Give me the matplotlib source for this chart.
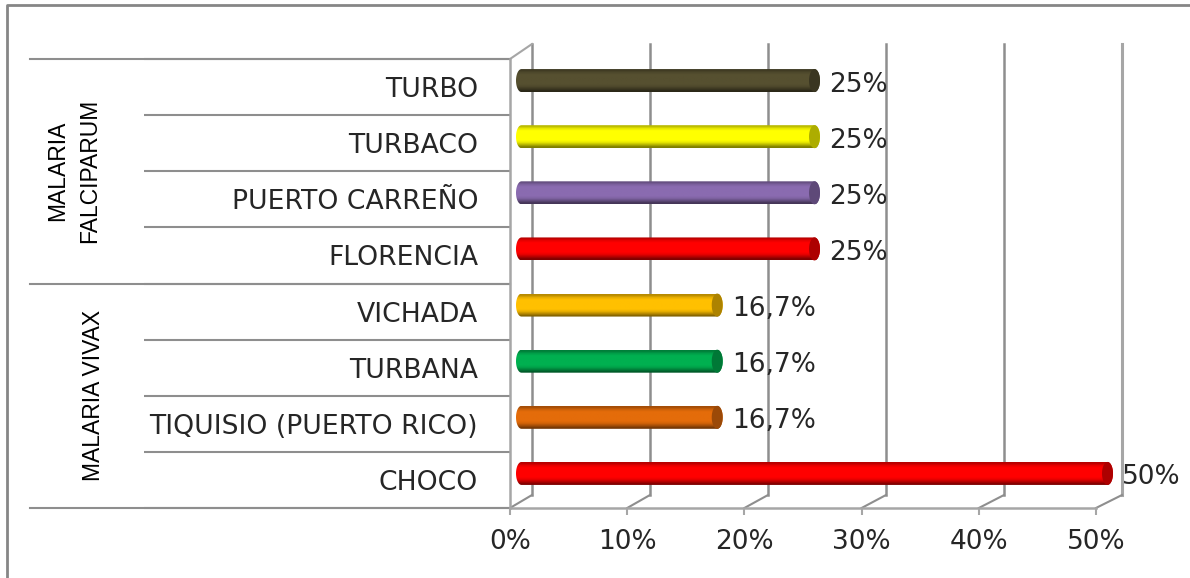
import numpy as np
import matplotlib
matplotlib.use('Agg')
import matplotlib.pyplot as plt
from matplotlib.colors import to_rgb
from matplotlib.lines import Line2D
from matplotlib.patches import Polygon

categories = ['CHOCO', 'TIQUISIO (PUERTO RICO)', 'TURBANA', 'VICHADA',
              'FLORENCIA', 'PUERTO CARREÑO', 'TURBACO', 'TURBO']
values = [50, 16.7, 16.7, 16.7, 25, 25, 25, 25]
value_labels = ['50%', '16,7%', '16,7%', '16,7%', '25%', '25%', '25%', '25%']
bar_colors = ['#FF0000', '#E46C0A', '#00B050', '#FFC000',
              '#FF0000', '#8A6BB0', '#FFFF00', '#565030']
x_ticks = [0, 10, 20, 30, 40, 50]
x_tick_labels = ['0%', '10%', '20%', '30%', '40%', '50%']
groups = ['MALARIA VIVAX', 'MALARIA\nFALCIPARUM']

W, H = 1190, 578
LINE = '#8E8E8E'
WALL = '#A6A6A6'
TEXT = '#262626'
plt.rcParams['font.family'] = 'DejaVu Sans'

fig = plt.figure(figsize=(W / 100, H / 100), dpi=100)
ax = fig.add_axes([510 / W, (H - 508) / H, 586 / W, 449 / H])
ax.set_facecolor('none')

# size of one pixel in data units
px = 50 / 586
py = 8 / 449

# outer frame: only the left and top edges are inside the picture
fig.add_artist(Line2D([7 / W, 7 / W, 1], [0, 1 - 5 / H, 1 - 5 / H], transform=fig.transFigure,
                      color='#868686', lw=2))

# back wall of the 3d box
dx, dy_bottom, dy_top = 22 * px, 13 * py, 15 * py
stretch = 590 / 586
for t in x_ticks:
    bx = t * stretch + dx
    col, lw = (WALL, 2.2) if t == x_ticks[-1] else (LINE, 1.8)
    ax.plot([bx, bx], [dy_bottom, 8 + dy_top], color=col, lw=lw, clip_on=False, zorder=1)
    ax.plot([t, bx], [0, dy_bottom], color=LINE, lw=1.5, clip_on=False, zorder=1)
ax.plot([0, dx], [8, 8 + dy_top], color=WALL, lw=1.5, clip_on=False, zorder=1)

# cylinders
half_h = 11.5 * py
cap_w = 5.5 * px
shift_x = 11.5 * px
shift_y = 6.5 * py
shade = np.array([0.72, 0.9, 1, 1, 1, 1, 1, 0.92, 0.72, 0.5])[:, None, None]
t = np.linspace(0, 2 * np.pi, 80)
for i, (v, c) in enumerate(zip(values, bar_colors)):
    yc = i + 0.5 + shift_y
    x0, x1 = shift_x, v + shift_x
    base = np.array(to_rgb(c))
    img = ax.imshow(np.clip(shade * base, 0, 1), extent=[x0 - cap_w, x1 + cap_w, yc - half_h, yc + half_h],
                    aspect='auto', interpolation='bilinear', zorder=3)
    th_r = np.linspace(-np.pi / 2, np.pi / 2, 40)
    th_l = np.linspace(np.pi / 2, 3 * np.pi / 2, 40)
    outline = np.vstack([
        np.column_stack([x1 + cap_w * np.cos(th_r), yc + half_h * np.sin(th_r)]),
        np.column_stack([x0 + cap_w * np.cos(th_l), yc + half_h * np.sin(th_l)]),
    ])
    clip = Polygon(outline, closed=True, transform=ax.transData, fill=False, edgecolor='none', clip_on=False)
    ax.add_patch(clip)
    img.set_clip_path(clip)
    # the last bar runs past the axes box, images stop at the box otherwise
    img.set_clip_box(fig.bbox)
    ax.add_patch(Polygon(np.column_stack([x1 + cap_w * np.cos(t), yc + half_h * np.sin(t)]),
                         closed=True, facecolor=base * 0.68, edgecolor='none', zorder=4, clip_on=False))
    ax.annotate(value_labels[i], xy=(v, i + 0.5), xytext=(x1 + cap_w + 9 * px, yc - 4 * py), ha='left', va='center',
                fontsize=19, color=TEXT, zorder=5, annotation_clip=False)

ax.set_xlim(0, 50)
ax.set_ylim(0, 8)

for s in ['top', 'right']:
    ax.spines[s].set_visible(False)
for s in ['left', 'bottom']:
    ax.spines[s].set_color(WALL)
    ax.spines[s].set_linewidth(1.8)

ax.set_xticks(x_ticks)
ax.set_xticklabels(x_tick_labels, fontsize=19, color=TEXT)
ax.tick_params(axis='x', length=5, width=1.5, color=WALL, pad=10)

ax.set_yticks(np.arange(len(categories)) + 0.5)
ax.set_yticklabels(categories, fontsize=19.2, color=TEXT)
ax.tick_params(axis='y', length=0, pad=23)

# separators between the categories
ax.set_yticks(np.arange(0, 9), minor=True)
ax.tick_params(axis='y', which='minor', length=366 * 0.72, width=1.5, color=LINE)
for y in [0, 4, 8]:
    ax.plot([-480 * px, 0], [y, y], color=LINE, lw=1.5, clip_on=False, zorder=1)

narrow = ['Liberation Sans Narrow', 'Liberation Sans']
ax.text(-416 * px, 2, groups[0], rotation=90, ha='center', va='center', fontsize=16.5, family=narrow,
        color='black')
ax.text(-436 * px, 6, groups[1], rotation=90, ha='center', va='center', fontsize=16.5, family=narrow,
        color='black', linespacing=1.5, multialignment='center')

fig.savefig('out.png', dpi=100, facecolor='white')
